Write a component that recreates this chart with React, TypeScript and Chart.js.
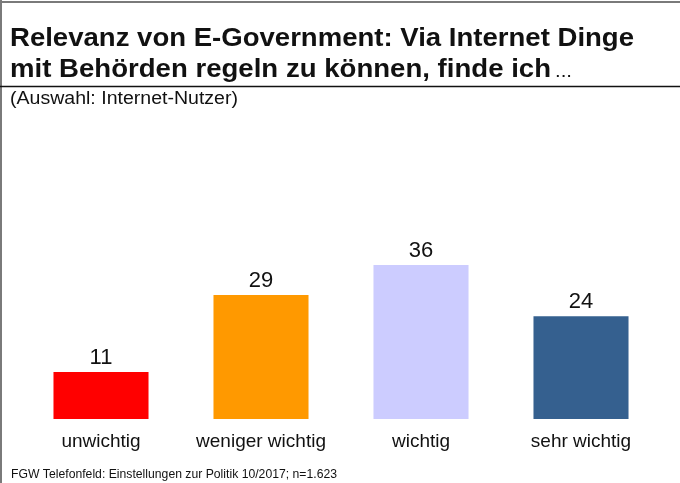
import React, { useEffect, useRef } from "react";
import { Chart, registerables } from "chart.js";

Chart.register(...registerables);

const categories = ["unwichtig", "weniger wichtig", "wichtig", "sehr wichtig"];
const values = [11, 29, 36, 24];
const barColors = ["#FF0000", "#FF9900", "#CCCCFF", "#35608F"];
const titleLine1 = "Relevanz von E-Government: Via Internet Dinge";
const titleLine2 = "mit Behörden regeln zu können, finde ich";
const titleEllipsis = "...";
const subtitleText = "(Auswahl: Internet-Nutzer)";
const footerText = "FGW Telefonfeld: Einstellungen zur Politik 10/2017; n=1.623";

const FONT = "'Liberation Sans', Arial, Helvetica, sans-serif";

function fitText(ctx: CanvasRenderingContext2D, text: string, x: number, y: number, width: number) {
  const m = ctx.measureText(text).width;
  const s = width / m;
  ctx.save();
  ctx.translate(x, y);
  ctx.scale(s, 1);
  ctx.fillText(text, 0, 0);
  ctx.restore();
}

const decorPlugin = {
  id: "decor",
  afterDraw(chart: any) {
    const ctx = chart.ctx;
    const w = chart.width;
    const h = chart.height;
    ctx.save();
    // frame
    ctx.strokeStyle = "#7a7a7a";
    ctx.lineWidth = 2;
    ctx.beginPath();
    ctx.moveTo(0, 2);
    ctx.lineTo(w, 2);
    ctx.moveTo(1, 0);
    ctx.lineTo(1, h);
    ctx.stroke();
    // separator
    ctx.strokeStyle = "#111";
    ctx.lineWidth = 1.5;
    ctx.beginPath();
    ctx.moveTo(0, 86.5);
    ctx.lineTo(w, 86.5);
    ctx.stroke();
    // texts
    ctx.fillStyle = "#111";
    ctx.textAlign = "left";
    ctx.textBaseline = "alphabetic";
    ctx.font = `bold 26px ${FONT}`;
    fitText(ctx, titleLine1, 10, 46, 624);
    fitText(ctx, titleLine2, 10, 77, 541);
    ctx.font = `18px ${FONT}`;
    fitText(ctx, titleEllipsis, 555, 77, 17);
    ctx.font = `17.5px ${FONT}`;
    fitText(ctx, subtitleText, 10, 104, 228);
    ctx.font = `12px ${FONT}`;
    fitText(ctx, footerText, 11, 478, 326);
    // value labels
    const meta = chart.getDatasetMeta(0);
    ctx.font = `22px ${FONT}`;
    ctx.textAlign = "center";
    meta.data.forEach((bar: any, i: number) => {
      ctx.fillText(String(values[i]), bar.x, bar.y - 8);
    });
    ctx.restore();
  },
};

export default function App() {
  const ref = useRef<HTMLCanvasElement | null>(null);
  useEffect(() => {
    document.body.style.margin = "0";
    const canvas = ref.current;
    if (!canvas) return;
    const chart = new Chart(canvas, {
      type: "bar",
      data: {
        labels: categories,
        datasets: [
          {
            data: values,
            backgroundColor: barColors,
            borderWidth: 0,
            categoryPercentage: 1,
            barPercentage: 0.594,
          },
        ],
      },
      options: {
        responsive: false,
        animation: false,
        layout: { padding: { left: 21, right: 19, top: 205, bottom: 24 } },
        plugins: {
          legend: { display: false },
          title: { display: false },
          tooltip: { enabled: false },
        },
        scales: {
          x: {
            grid: { display: false, drawTicks: false },
            border: { display: false },
            ticks: {
              color: "#111",
              font: { family: FONT, size: 19 },
              padding: 11,
              maxRotation: 0,
              autoSkip: false,
            },
            afterFit: (scale: any) => {
              scale.height = 40;
            },
          },
          y: {
            display: false,
            min: 0,
            max: 50,
          },
        },
      },
      plugins: [decorPlugin],
    });
    return () => chart.destroy();
  }, []);
  return (
    <div style={{ width: 680, height: 483, background: "#fff" }}>
      <canvas ref={ref} width={680} height={483} style={{ display: "block" }} />
    </div>
  );
}
